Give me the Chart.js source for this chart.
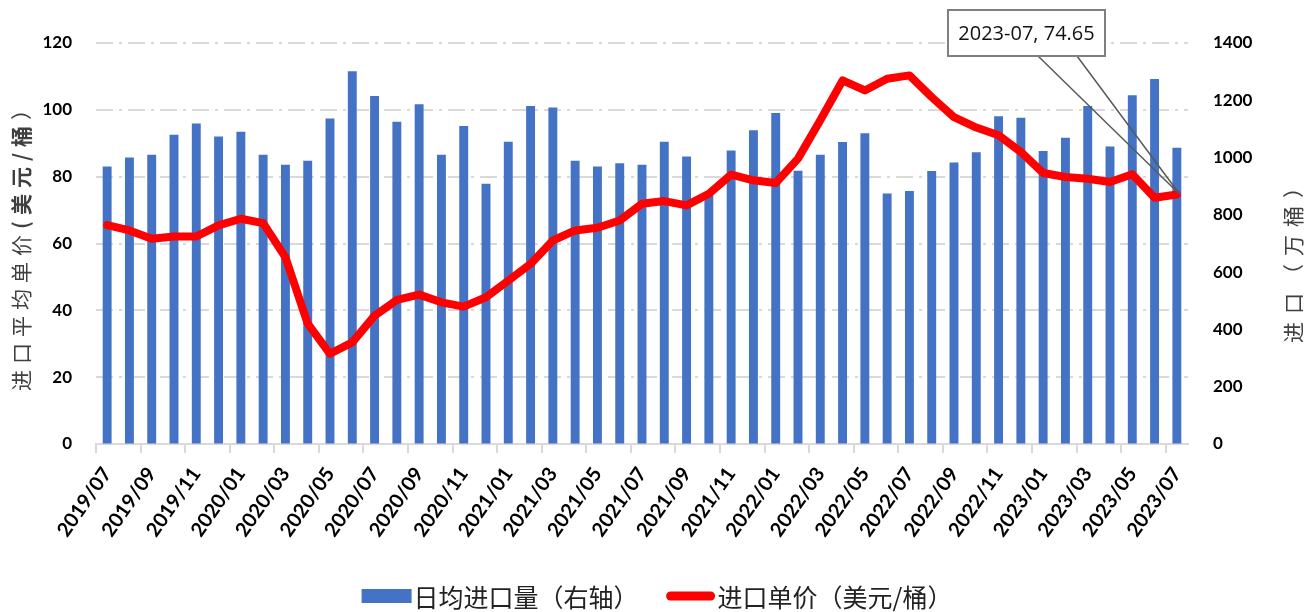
<!DOCTYPE html>
<html>
<head>
<meta charset="utf-8">
<script src="https://cdn.jsdelivr.net/npm/chart.js@4/dist/chart.umd.min.js"></script>
<style>
  html, body { margin: 0; padding: 0; background: #fff; }
  #wrap { width: 1314px; height: 612px; }
</style>
</head>
<body>
<div id="wrap"><canvas id="c" width="1314" height="612"></canvas></div>
<script>
const months = [
  "2019/07", "2019/08", "2019/09", "2019/10", "2019/11", "2019/12",
  "2020/01", "2020/02", "2020/03", "2020/04", "2020/05", "2020/06",
  "2020/07", "2020/08", "2020/09", "2020/10", "2020/11", "2020/12",
  "2021/01", "2021/02", "2021/03", "2021/04", "2021/05", "2021/06",
  "2021/07", "2021/08", "2021/09", "2021/10", "2021/11", "2021/12",
  "2022/01", "2022/02", "2022/03", "2022/04", "2022/05", "2022/06",
  "2022/07", "2022/08", "2022/09", "2022/10", "2022/11", "2022/12",
  "2023/01", "2023/02", "2023/03", "2023/04", "2023/05", "2023/06",
  "2023/07"
];

// 日均进口量 (万桶), right axis
const dailyImports = [
  969, 1000, 1010, 1080, 1119, 1074,
  1090, 1010, 975, 989, 1136, 1301,
  1215, 1125, 1186, 1010, 1110, 909,
  1055, 1180, 1175, 989, 969, 980,
  975, 1055, 1004, 880, 1025, 1095,
  1156, 954, 1010, 1054, 1085, 875,
  883, 953, 983, 1019, 1144, 1139,
  1023, 1069, 1180, 1039, 1218, 1274,
  1034
];

// 进口单价 (美元/桶), left axis
const importPrice = [
  65.5, 63.9, 61.4, 62.1, 62.1, 65.4,
  67.4, 66.1, 55.9, 36.0, 27.0, 30.4,
  38.4, 43.1, 44.7, 42.4, 41.1, 43.9,
  48.9, 53.9, 60.9, 63.9, 64.7, 66.9,
  71.9, 72.7, 71.4, 74.9, 80.6, 78.9,
  78.1, 85.4, 96.9, 108.8, 105.8, 109.3,
  110.3, 103.8, 97.8, 94.7, 92.4, 87.4,
  81.1, 79.9, 79.4, 78.4, 80.7, 73.7,
  74.65
];

const leftTicks = [0, 20, 40, 60, 80, 100, 120];
const rightTicks = [0, 200, 400, 600, 800, 1000, 1200, 1400];

const seriesNames = ["日均进口量（右轴）", "进口单价（美元/桶）"];
const leftTitle = [["进口平均单价", false], ["(美元/桶", true], ["）", false]];
const rightTitle = [["进口（万桶）", false]];

const tickFont = { family: "Lato, 'Open Sans', sans-serif", size: 17, weight: "bold" };
const cjkFamily = "'Noto Sans CJK SC', 'Noto Sans', sans-serif";

// draws a vertical (bottom-to-top) title char by char with extra spacing
function drawVerticalTitle(ctx, parts, cx, cy, size, spacing) {
  const glyphs = [];
  let total = 0;
  parts.forEach(([txt, bold]) => {
    const font = (bold ? "bold " : "") + size + "px " + cjkFamily;
    ctx.font = font;
    for (const ch of txt) {
      const w = ctx.measureText(ch).width;
      glyphs.push({ ch, font, w });
      total += w + spacing;
    }
  });
  total -= spacing;
  ctx.save();
  ctx.translate(cx, cy);
  ctx.rotate(-Math.PI / 2);
  ctx.textAlign = "left";
  ctx.textBaseline = "middle";
  let x = -total / 2;
  glyphs.forEach((g) => {
    ctx.font = g.font;
    ctx.fillText(g.ch, x, 0);
    x += g.w + spacing;
  });
  ctx.restore();
}

const axisTitles = {
  id: "axisTitles",
  afterDraw(chart) {
    const ctx = chart.ctx;
    ctx.save();
    ctx.fillStyle = "#404040";
    drawVerticalTitle(ctx, leftTitle, 21, 245, 21, 6);
    drawVerticalTitle(ctx, rightTitle, 1293, 260, 21, 8);
    ctx.restore();
  }
};

// legend drawn by hand: swatch then text right next to it
const bottomLegend = {
  id: "bottomLegend",
  afterDraw(chart) {
    const ctx = chart.ctx;
    const sets = chart.data.datasets;
    ctx.save();
    ctx.font = "25px " + cjkFamily;
    ctx.textBaseline = "middle";
    ctx.textAlign = "left";
    const swatchW = 50, gapText = 2, gapItem = 27;
    const widths = sets.map((d) => swatchW + gapText + ctx.measureText(d.label).width);
    const totalW = widths.reduce((a, b) => a + b, 0) + gapItem * (sets.length - 1);
    let x = (chart.width - totalW) / 2;
    const y = 596;
    sets.forEach((d, i) => {
      if (d.type === "bar") {
        ctx.fillStyle = d.backgroundColor;
        ctx.fillRect(x, y - 7, swatchW, 14);
      } else {
        ctx.strokeStyle = d.borderColor;
        ctx.lineWidth = 9;
        ctx.lineCap = "round";
        ctx.beginPath();
        ctx.moveTo(x + 5, y);
        ctx.lineTo(x + swatchW - 5, y);
        ctx.stroke();
      }
      ctx.fillStyle = "#222";
      ctx.fillText(d.label, x + swatchW + gapText, y + 1);
      x += widths[i] + gapItem;
    });
    ctx.restore();
  }
};

// data callout on the last price point
const lastCallout = {
  id: "lastCallout",
  afterDatasetsDraw(chart) {
    const meta = chart.getDatasetMeta(1);
    const last = meta.data[meta.data.length - 1];
    if (!last) return;
    const i = importPrice.length - 1;
    const text = months[i].replace("/", "-") + ", " + importPrice[i].toFixed(2);
    const ctx = chart.ctx;
    const box = { x: 948, y: 10, w: 157, h: 46 };
    ctx.save();
    ctx.strokeStyle = "#595959";
    ctx.lineWidth = 1.5;
    ctx.beginPath();
    ctx.moveTo(box.x + 90, box.y + box.h);
    ctx.lineTo(last.x + 3, last.y);
    ctx.moveTo(box.x + 129, box.y + box.h);
    ctx.lineTo(last.x + 3, last.y);
    ctx.stroke();
    ctx.fillStyle = "#fff";
    ctx.fillRect(box.x, box.y, box.w, box.h);
    ctx.lineWidth = 2;
    ctx.strokeStyle = "#7f7f7f";
    ctx.strokeRect(box.x, box.y, box.w, box.h);
    ctx.fillStyle = "#111";
    ctx.font = "20px 'Open Sans', sans-serif";
    ctx.textAlign = "center";
    ctx.textBaseline = "middle";
    ctx.fillText(text, box.x + box.w / 2, box.y + box.h / 2 + 1);
    ctx.restore();
  }
};

new Chart(document.getElementById("c"), {
  data: {
    labels: months,
    datasets: [
      {
        type: "bar",
        label: seriesNames[0],
        data: dailyImports,
        yAxisID: "yRight",
        backgroundColor: "#4472C4",
        borderWidth: 0,
        barPercentage: 0.4,
        categoryPercentage: 1,
        order: 1
      },
      {
        type: "line",
        label: seriesNames[1],
        data: importPrice,
        yAxisID: "yLeft",
        borderColor: "#FF0000",
        backgroundColor: "#FF0000",
        borderWidth: 8,
        borderJoinStyle: "round",
        borderCapStyle: "round",
        pointRadius: 0,
        tension: 0,
        order: 0
      }
    ]
  },
  plugins: [axisTitles, lastCallout, bottomLegend],
  options: {
    responsive: false,
    animation: false,
    layout: { padding: { top: 43, right: 0, left: 0, bottom: 0 } },
    plugins: {
      tooltip: { enabled: false },
      legend: { display: false }
    },
    scales: {
      x: {
        offset: true,
        grid: {
          display: true,
          drawOnChartArea: false,
          drawTicks: true,
          tickLength: 9,
          lineWidth: 2,
          color: (c) => (c.index % 2 === 0 ? "#d9d9d9" : "rgba(0,0,0,0)")
        },
        border: { display: true, color: "#d9d9d9", width: 2 },
        ticks: {
          autoSkip: false,
          minRotation: 55,
          maxRotation: 55,
          padding: 10,
          color: "#000",
          font: { family: tickFont.family, size: 20, weight: "bold" },
          callback: (v, i) => (i % 2 === 0 ? months[i] : "")
        },
        afterFit: (s) => { s.height = 168; }
      },
      yLeft: {
        position: "left",
        min: 0,
        max: 120,
        afterBuildTicks: (s) => { s.ticks = leftTicks.map((v) => ({ value: v })); },
        grid: {
          color: "#d9d9d9",
          lineWidth: 2,
          drawTicks: false
        },
        border: { display: false, dash: [17, 6, 3, 6] },
        ticks: { padding: 24, color: "#000", font: tickFont },
        afterFit: (s) => { s.width = 96; }
      },
      yRight: {
        position: "right",
        min: 0,
        max: 1400,
        afterBuildTicks: (s) => { s.ticks = rightTicks.map((v) => ({ value: v })); },
        grid: { drawOnChartArea: false, drawTicks: false },
        border: { display: false },
        ticks: {
          padding: 25,
          color: "#000",
          font: tickFont,
          callback: (v) => String(v)
        },
        afterFit: (s) => { s.width = 126; }
      }
    }
  }
});
</script>
</body>
</html>
